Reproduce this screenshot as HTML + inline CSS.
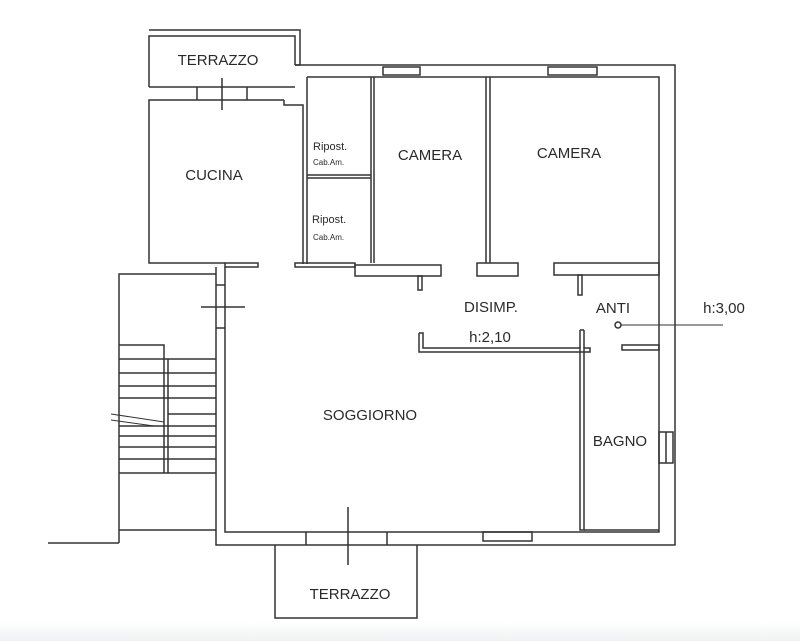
<!DOCTYPE html>
<html><head><meta charset="utf-8"><style>
html,body{margin:0;padding:0;background:#fff;}
svg{display:block}
text{font-family:"Liberation Sans",sans-serif;fill:#2a2a2a;}
</style></head><body>
<svg width="800" height="641" viewBox="0 0 800 641" xmlns="http://www.w3.org/2000/svg">
<defs><linearGradient id="g" x1="0" y1="0" x2="0" y2="1"><stop offset="0" stop-color="#fff"/><stop offset="1" stop-color="#f0f1f2"/></linearGradient></defs>
<rect x="0" y="0" width="800" height="641" fill="#fff"/>
<rect x="0" y="622" width="800" height="19" fill="url(#g)"/>
<g fill="none" stroke="#333" stroke-width="1.5">
<!-- top terrazzo -->
<polyline points="149,87 149,36 295,36 295,65"/>
<polyline points="149,30 300,30 300,65"/>
<line x1="149" y1="87" x2="295" y2="87"/>
<line x1="295" y1="65" x2="300" y2="65"/>
<!-- outer walls -->
<polyline points="295,65 675,65 675,545 216,545 216,530"/>
<polyline points="307,77 659,77 659,532 225,532 225,267"/>
<!-- top windows -->
<rect x="383" y="67" width="37" height="8"/>
<rect x="548" y="67" width="49" height="8"/>
<!-- kitchen -->
<polyline points="284,100 149,100 149,263 225,263"/>
<rect x="225" y="263" width="33" height="4"/>
<line x1="197" y1="87" x2="197" y2="100"/>
<line x1="247" y1="87" x2="247" y2="100"/>
<line x1="222" y1="78" x2="222" y2="110"/>
<polyline points="284,100 284,105 303,105 303,264"/>
<line x1="307" y1="77" x2="307" y2="264"/>
<!-- ripost -->
<line x1="307" y1="175" x2="371" y2="175"/>
<line x1="307" y1="178" x2="371" y2="178"/>
<line x1="371" y1="77" x2="371" y2="263"/>
<line x1="374" y1="77" x2="374" y2="263"/>
<rect x="295" y="263" width="60" height="4"/>
<rect x="355" y="265" width="86" height="11"/>
<rect x="418" y="276" width="4" height="14"/>
<!-- camera dividers -->
<line x1="486" y1="77" x2="486" y2="263"/>
<line x1="490" y1="77" x2="490" y2="263"/>
<rect x="477" y="263" width="41" height="13"/>
<rect x="554" y="263" width="105" height="12"/>
<rect x="578" y="275" width="4" height="20"/>
<!-- disimp -->
<polyline points="419,333 419,352 590,352 590,348 584,348 584,530 580,530 580,348 423,348 423,333 419,333"/>
<line x1="580" y1="330" x2="584" y2="330"/>
<line x1="580" y1="330" x2="580" y2="348"/>
<line x1="584" y1="330" x2="584" y2="348"/>
<rect x="622" y="345" width="37" height="5"/>
<line x1="584" y1="530" x2="659" y2="530"/>
<!-- bagno window -->
<rect x="659" y="432" width="14" height="31"/>
<line x1="666" y1="432" x2="666" y2="463"/>
<!-- ANTI marker -->
<circle cx="618" cy="325" r="3"/>
<line x1="621" y1="325" x2="723" y2="325" stroke-width="1"/>
<!-- left soggiorno wall window -->
<line x1="216" y1="267" x2="216" y2="530"/>
<line x1="216" y1="285" x2="225" y2="285"/>
<line x1="216" y1="328" x2="225" y2="328"/>
<line x1="201" y1="307" x2="245" y2="307"/>
<!-- stairs -->
<polyline points="119,543 119,274 216,274"/>
<line x1="48" y1="543" x2="119" y2="543"/>
<line x1="119" y1="530" x2="216" y2="530"/>
<polyline points="119,345 164,345 164,473"/>
<line x1="168" y1="359" x2="168" y2="473"/>
<line x1="119" y1="359" x2="216" y2="359"/>
<line x1="119" y1="373" x2="216" y2="373"/>
<line x1="119" y1="386" x2="216" y2="386"/>
<line x1="119" y1="398" x2="216" y2="398"/>
<line x1="168" y1="414" x2="216" y2="414"/>
<line x1="119" y1="426" x2="216" y2="426"/>
<line x1="119" y1="436" x2="216" y2="436"/>
<line x1="119" y1="447" x2="216" y2="447"/>
<line x1="119" y1="459" x2="216" y2="459"/>
<line x1="119" y1="473" x2="216" y2="473"/>
<line x1="111" y1="414" x2="164" y2="422" stroke-width="1"/>
<line x1="111" y1="420" x2="154" y2="426" stroke-width="1"/>
<!-- bottom windows -->
<line x1="306" y1="532" x2="306" y2="545"/>
<line x1="387" y1="532" x2="387" y2="545"/>
<rect x="483" y="532" width="49" height="9"/>
<line x1="348" y1="507" x2="348" y2="565"/>
<!-- bottom terrazzo -->
<polyline points="275,545 275,618 417,618 417,545"/>
</g>
<text x="218" y="65" font-size="15" text-anchor="middle">TERRAZZO</text>
<text x="214" y="180" font-size="15" text-anchor="middle">CUCINA</text>
<text x="313" y="150" font-size="11">Ripost.</text>
<text x="313" y="165" font-size="8">Cab.Am.</text>
<text x="312" y="223" font-size="11">Ripost.</text>
<text x="313" y="240" font-size="8">Cab.Am.</text>
<text x="430" y="160" font-size="15" text-anchor="middle">CAMERA</text>
<text x="569" y="158" font-size="15" text-anchor="middle">CAMERA</text>
<text x="491" y="312" font-size="15" text-anchor="middle">DISIMP.</text>
<text x="490" y="342" font-size="15" text-anchor="middle">h:2,10</text>
<text x="613" y="313" font-size="15" text-anchor="middle">ANTI</text>
<text x="724" y="313" font-size="15" text-anchor="middle">h:3,00</text>
<text x="370" y="420" font-size="15" text-anchor="middle">SOGGIORNO</text>
<text x="620" y="446" font-size="15" text-anchor="middle">BAGNO</text>
<text x="350" y="599" font-size="15" text-anchor="middle">TERRAZZO</text>
</svg>
</body></html>
